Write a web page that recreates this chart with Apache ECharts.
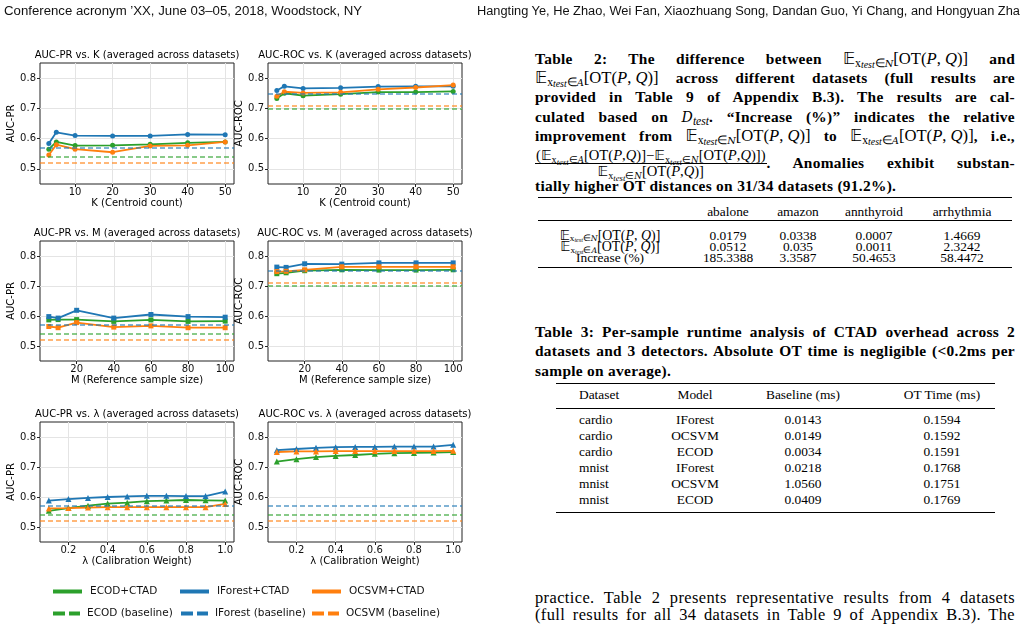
<!DOCTYPE html>
<html>
<head>
<meta charset="utf-8">
<script src="https://cdn.jsdelivr.net/npm/echarts@6.0.0/dist/echarts.min.js"></script>
<style>
  html, body { margin: 0; padding: 0; background: #fff; }
  #page { position: relative; width: 1024px; height: 633px; overflow: hidden; background: #fff; }
  #chart { position: absolute; left: 0; top: 0; width: 510px; height: 633px; }
  .hdr { position: absolute; top: 4px; font-family: "Liberation Sans Narrow", "Liberation Sans", sans-serif; font-size: 12px; white-space: nowrap; color: #111; transform-origin: left center; }
  .ln { position: absolute; left: 535px; width: 480px; height: 20px; line-height: 20px; white-space: nowrap; color: #000;
        font-family: "Liberation Serif", "DejaVu Serif", serif; }
  .ln.j { text-align: justify; text-align-last: justify; white-space: normal; }
  .cap { font-weight: bold; font-size: 15.4px; letter-spacing: 0.3px; }
  .body { font-size: 16.4px; letter-spacing: 0.4px; }
  .m { display: inline-block; white-space: nowrap; font-weight: normal; font-family: "Liberation Serif", serif; font-size: 1.08em; letter-spacing: 0; }
  .m sub { font-size: 0.7em; vertical-align: -0.25em; line-height: 0; }
  .m sub sub { font-size: 0.85em; vertical-align: -0.15em; font-style: italic; }
  .bb { font-family: "DejaVu Sans", serif; font-weight: normal; font-size: 1.0em; }
  .cal { font-style: italic; font-family: "DejaVu Serif", serif; font-size: 0.85em; }
  .frac { position: absolute; left: 535px; top: 148px; text-align: center; font-family: "Liberation Serif", serif;
          font-size: 14.6px; line-height: 14px; white-space: nowrap; color: #000; }
  .frac sub { font-size: 0.7em; vertical-align: -0.25em; line-height: 0; }
  .frac sub sub { font-size: 0.85em; font-style: italic; }
  .frac .num { border-bottom: 0.8px solid #000; padding: 0 1px 1px; }
  .rule { position: absolute; background: #000; }
  .cell { position: absolute; font-family: "Liberation Serif", "DejaVu Serif", serif; font-size: 13.4px; color: #000; white-space: nowrap; height: 14px; line-height: 14px; }
  .cell .m { font-size: 1.04em; line-height: 11px; }
  .cell .m sub { font-size: 0.66em; vertical-align: -0.2em; }
</style>
</head>
<body>
<div id="page">
  <div id="chart"></div>

  <span class="hdr" data-w="358" style="left:4px">Conference acronym ’XX, June 03–05, 2018, Woodstock, NY</span>
  <span class="hdr" data-w="543" style="left:477px">Hangting Ye, He Zhao, Wei Fan, Xiaozhuang Song, Dandan Guo, Yi Chang, and Hongyuan Zha</span>

  <div id="captions"></div>
  <div id="tables"></div>
</div>

<script>
// ---- data ----
const kValues = [3, 5, 10, 20, 30, 40, 50];
const mValues = [5, 10, 20, 40, 60, 80, 100];
const lambdaValues = [0.1, 0.2, 0.3, 0.4, 0.5, 0.6, 0.7, 0.8, 0.9, 1.0];

const kTicks = [10, 20, 30, 40, 50];
const mTicks = [20, 40, 60, 80, 100];
const lambdaTicks = [0.2, 0.4, 0.6, 0.8, 1.0];
const yTicks = [0.5, 0.6, 0.7, 0.8];

const prByK_ECOD    = [0.565, 0.589, 0.577, 0.578, 0.581, 0.586, 0.589];
const prByK_IForest = [0.584, 0.621, 0.610, 0.609, 0.609, 0.614, 0.613];
const prByK_OCSVM   = [0.546, 0.580, 0.565, 0.555, 0.576, 0.578, 0.589];

const rocByK_ECOD    = [0.733, 0.750, 0.742, 0.747, 0.754, 0.754, 0.756];
const rocByK_IForest = [0.759, 0.773, 0.766, 0.768, 0.772, 0.773, 0.773];
const rocByK_OCSVM   = [0.740, 0.755, 0.751, 0.753, 0.763, 0.769, 0.777];

const prByM_ECOD    = [0.587, 0.588, 0.588, 0.582, 0.587, 0.582, 0.583];
const prByM_IForest = [0.598, 0.593, 0.619, 0.593, 0.605, 0.598, 0.596];
const prByM_OCSVM   = [0.565, 0.561, 0.578, 0.563, 0.567, 0.561, 0.561];

const rocByM_ECOD    = [0.741, 0.744, 0.751, 0.754, 0.753, 0.753, 0.754];
const rocByM_IForest = [0.763, 0.762, 0.774, 0.773, 0.777, 0.777, 0.777];
const rocByM_OCSVM   = [0.748, 0.749, 0.754, 0.764, 0.764, 0.764, 0.764];

const prByLambda_ECOD    = [0.554, 0.563, 0.571, 0.578, 0.581, 0.586, 0.588, 0.590, 0.589, 0.588];
const prByLambda_IForest = [0.588, 0.593, 0.597, 0.600, 0.602, 0.604, 0.604, 0.603, 0.603, 0.618];
const prByLambda_OCSVM   = [0.562, 0.563, 0.565, 0.566, 0.566, 0.566, 0.566, 0.566, 0.566, 0.577];

const rocByLambda_ECOD    = [0.718, 0.726, 0.733, 0.737, 0.740, 0.744, 0.746, 0.747, 0.748, 0.750];
const rocByLambda_IForest = [0.756, 0.760, 0.764, 0.766, 0.767, 0.767, 0.768, 0.768, 0.768, 0.774];
const rocByLambda_OCSVM   = [0.750, 0.752, 0.752, 0.753, 0.753, 0.753, 0.753, 0.753, 0.753, 0.754];

// baselines in method order: ECOD, IForest, OCSVM
const baselinePR  = [0.535, 0.567, 0.523];
const baselineROC = [0.705, 0.753, 0.711];

const methods = ['ECOD', 'IForest', 'OCSVM'];
const methodColors = ['#2ca02c', '#1f77b4', '#ff7f0e'];

// table 2
const t2Columns = ['abalone', 'amazon', 'annthyroid', 'arrhythmia'];
const t2Normal  = ['0.0179', '0.0338', '0.0007', '1.4669'];
const t2Anomaly = ['0.0512', '0.035', '0.0011', '2.3242'];
const t2Increase = ['185.3388', '3.3587', '50.4653', '58.4472'];

// table 3
const t3Header   = ['Dataset', 'Model', 'Baseline (ms)', 'OT Time (ms)'];
const t3Dataset  = ['cardio', 'cardio', 'cardio', 'mnist', 'mnist', 'mnist'];
const t3Model    = ['IForest', 'OCSVM', 'ECOD', 'IForest', 'OCSVM', 'ECOD'];
const t3Baseline = ['0.0143', '0.0149', '0.0034', '0.0218', '1.0560', '0.0409'];
const t3OTTime   = ['0.1594', '0.1592', '0.1591', '0.1768', '0.1751', '0.1769'];

// ---- chart ----
const FONT = 'DejaVu Sans';
const panels = [
  { x: kValues, ys: [prByK_ECOD, prByK_IForest, prByK_OCSVM], base: baselinePR, ticks: kTicks, symbol: 'circle',
    title: 'AUC-PR vs. K (averaged across datasets)', xName: 'K (Centroid count)', yName: 'AUC-PR',
    left: 40, top: 63, height: 121, yGap: 22 },
  { x: kValues, ys: [rocByK_ECOD, rocByK_IForest, rocByK_OCSVM], base: baselineROC, ticks: kTicks, symbol: 'circle',
    title: 'AUC-ROC vs. K (averaged across datasets)', xName: 'K (Centroid count)', yName: 'AUC-ROC',
    left: 268, top: 63, height: 121, yGap: 20 },
  { x: mValues, ys: [prByM_ECOD, prByM_IForest, prByM_OCSVM], base: baselinePR, ticks: mTicks, symbol: 'rect',
    title: 'AUC-PR vs. M (averaged across datasets)', xName: 'M (Reference sample size)', yName: 'AUC-PR',
    left: 40, top: 241, height: 120, yGap: 22 },
  { x: mValues, ys: [rocByM_ECOD, rocByM_IForest, rocByM_OCSVM], base: baselineROC, ticks: mTicks, symbol: 'rect',
    title: 'AUC-ROC vs. M (averaged across datasets)', xName: 'M (Reference sample size)', yName: 'AUC-ROC',
    left: 268, top: 241, height: 120, yGap: 20 },
  { x: lambdaValues, ys: [prByLambda_ECOD, prByLambda_IForest, prByLambda_OCSVM], base: baselinePR, ticks: lambdaTicks, symbol: 'triangle',
    title: 'AUC-PR vs. λ (averaged across datasets)', xName: 'λ (Calibration Weight)', yName: 'AUC-PR',
    left: 40, top: 422, height: 120, yGap: 22 },
  { x: lambdaValues, ys: [rocByLambda_ECOD, rocByLambda_IForest, rocByLambda_OCSVM], base: baselinePR, ticks: lambdaTicks, symbol: 'triangle',
    title: 'AUC-ROC vs. λ (averaged across datasets)', xName: 'λ (Calibration Weight)', yName: 'AUC-ROC',
    left: 268, top: 422, height: 120, yGap: 20 },
];
const PLOT_W = 194;

const grid = [], xAxis = [], yAxis = [], title = [], series = [];
panels.forEach((p, i) => {
  const lo = Math.min(...p.x), hi = Math.max(...p.x), pad = (hi - lo) * 0.05;
  const isLambda = p.x === lambdaValues;
  grid.push({ left: p.left, top: p.top, width: PLOT_W, height: p.height, show: true,
    borderColor: '#222', borderWidth: 1, backgroundColor: 'transparent' });
  title.push({ text: p.title, left: p.left + PLOT_W / 2, top: p.top - 13, textAlign: 'center', padding: 0,
    textStyle: { fontFamily: FONT, fontSize: 10, fontWeight: 'normal', color: '#000' } });
  xAxis.push({
    type: 'value', gridIndex: i, min: lo - pad, max: hi + pad,
    axisLine: { show: false },
    axisTick: { show: true, length: 3, customValues: p.ticks, lineStyle: { color: '#222' } },
    axisLabel: { customValues: p.ticks, fontFamily: FONT, fontSize: 10, color: '#111', margin: 3,
      formatter: v => isLambda ? v.toFixed(1) : String(v) },
    splitLine: { show: true, lineStyle: { color: '#e4e4e4', width: 1 } },
    name: p.xName, nameLocation: 'middle', nameGap: 14,
    nameTextStyle: { fontFamily: FONT, fontSize: 10, color: '#000' },
  });
  yAxis.push({
    type: 'value', gridIndex: i, min: 0.45, max: 0.85,
    axisLine: { show: false },
    axisTick: { show: true, length: 3, customValues: yTicks, lineStyle: { color: '#222' } },
    axisLabel: { customValues: yTicks, fontFamily: FONT, fontSize: 10, color: '#111', margin: 4,
      formatter: v => v.toFixed(1) },
    splitLine: { show: true, lineStyle: { color: '#e4e4e4', width: 1 } },
    name: p.yName, nameLocation: 'middle', nameGap: p.yGap,
    nameTextStyle: { fontFamily: FONT, fontSize: 10, color: '#000' },
  });
  methods.forEach((m, k) => {
    series.push({
      type: 'line', name: m + ' (baseline)', xAxisIndex: i, yAxisIndex: i, data: [],
      itemStyle: { color: methodColors[k] }, lineStyle: { color: methodColors[k] },
      animation: false, z: 2,
      markLine: { silent: true, symbol: ['none', 'none'], label: { show: false }, animation: false,
        lineStyle: { type: [5, 3], width: 1.6, color: methodColors[k], opacity: 0.75 },
        emphasis: { disabled: true },
        data: [{ yAxis: p.base[k] }] },
    });
  });
  methods.forEach((m, k) => {
    series.push({
      type: 'line', name: m + '+CTAD', xAxisIndex: i, yAxisIndex: i,
      data: p.x.map((xv, j) => [xv, p.ys[k][j]]),
      symbol: p.symbol, symbolSize: p.symbol === 'triangle' ? 6 : 5,
      lineStyle: { width: 1.8, color: methodColors[k] }, itemStyle: { color: methodColors[k] },
      animation: false, z: 3,
    });
  });
});

// matplotlib-like legend, one component per entry so columns line up
const legendPos = [
  { name: 'ECOD+CTAD', left: 53, top: 586, dashed: false, c: 0 },
  { name: 'IForest+CTAD', left: 180, top: 586, dashed: false, c: 1 },
  { name: 'OCSVM+CTAD', left: 312, top: 586, dashed: false, c: 2 },
  { name: 'ECOD (baseline)', left: 53, top: 608, dashed: true, c: 0 },
  { name: 'IForest (baseline)', left: 181, top: 608, dashed: true, c: 1 },
  { name: 'OCSVM (baseline)', left: 312, top: 608, dashed: true, c: 2 },
];
const legend = legendPos.map(l => ({
  left: l.left, top: l.top, selectedMode: false, itemWidth: l.dashed ? 27 : 29, itemHeight: 4, padding: 0,
  textStyle: { fontFamily: FONT, fontSize: 10.5, color: '#111', padding: [0, 0, 0, l.dashed ? 2 : 3] },
  data: [{ name: l.name,
    icon: l.dashed ? 'path://M0,0H12V4H0Z M16,0H27V4H16Z' : 'rect',
    itemStyle: { color: methodColors[l.c], borderWidth: 0 } }],
}));

const chart = echarts.init(document.getElementById('chart'), null, { renderer: 'canvas' });
chart.setOption({ animation: false, backgroundColor: '#fff', title, grid, xAxis, yAxis, legend, series });

// ---- right-hand text ----
const E = (set) => `<span class="m"><span class="bb">𝔼</span><sub>x<sub>test</sub>∈<span class="cal">${set}</span></sub>[OT(<i>P</i>, <i>Q</i>)]</span>`;
const Es = (set) => `<span class="bb">𝔼</span><sub>x<sub>test</sub>∈<span class="cal">${set}</span></sub>[OT(<i>P</i>,<i>Q</i>)]`;
const captionLines = [
  { y: 59, j: true, cls: 'cap', html: `Table 2: The difference between ${E('N')} and` },
  { y: 78, j: true, cls: 'cap', html: `${E('A')} across different datasets (full results are` },
  { y: 97, j: true, cls: 'cap', html: 'provided in Table 9 of Appendix B.3). The results are cal-' },
  { y: 117, j: true, cls: 'cap', html: 'culated based on <span class="m"><span class="cal">D</span><sub><i>test</i></sub></span>. “Increase (%)” indicates the relative' },
  { y: 136, j: true, cls: 'cap', html: `improvement from ${E('N')} to ${E('A')}, i.e.,` },
  { y: 163, j: true, cls: 'cap', id: 'afterFrac', html: '. Anomalies exhibit substan-' },
  { y: 186, j: false, cls: 'cap', html: 'tially higher OT distances on 31/34 datasets (91.2%).' },
  { y: 332, j: true, cls: 'cap', html: 'Table 3: Per-sample runtime analysis of CTAD overhead across 2' },
  { y: 351, j: true, cls: 'cap', html: 'datasets and 3 detectors. Absolute OT time is negligible (&lt;0.2ms per' },
  { y: 371, j: false, cls: 'cap', html: 'sample on average).' },
  { y: 598, j: true, cls: 'body', html: 'practice. Table 2 presents representative results from 4 datasets' },
  { y: 615, j: true, cls: 'body', html: '(full results for all 34 datasets in Table 9 of Appendix B.3). The' },
];
document.getElementById('captions').innerHTML =
  `<div class="frac" id="frac"><div class="num">(${Es('A')}−${Es('N')})</div><div>${Es('N')}</div></div>` +
  captionLines.map(l =>
    `<div class="ln ${l.cls}${l.j ? ' j' : ''}"${l.id ? ` id="${l.id}"` : ''} style="top:${l.y - 10}px">${l.html}</div>`).join('');
// the text after the fraction starts where the fraction ends
const fracW = document.getElementById('frac').getBoundingClientRect().width;
const after = document.getElementById('afterFrac');
after.style.left = (535 + fracW) + 'px';
after.style.width = (480 - fracW) + 'px';

const cells = [];
const rule = (x1, x2, y, h) => cells.push(`<div class="rule" style="left:${x1}px;width:${x2 - x1}px;top:${y}px;height:${h}px"></div>`);
const cell = (cx, cy, html, align) => {
  const w = 170;
  const left = align === 'left' ? cx : cx - w / 2;
  cells.push(`<div class="cell" style="left:${left}px;top:${cy - 7}px;width:${w}px;text-align:${align || 'center'}">${html}</div>`);
};
// table 2
const t2X = [728, 798, 874, 962];
rule(538, 1012, 196.5, 1.4); rule(538, 1012, 219.5, 0.8); rule(538, 1012, 266.5, 1.4);
t2Columns.forEach((c, i) => cell(t2X[i], 212, c));
const t2Rows = [[E('N'), t2Normal], [E('A'), t2Anomaly], ['Increase (%)', t2Increase]];
const t2Y = [235.5, 247, 258.3];
t2Rows.forEach(([label, vals], r) => {
  cell(610, t2Y[r], label);
  vals.forEach((v, i) => cell(t2X[i], t2Y[r], v));
});
// table 3
rule(556, 995, 383, 1.4); rule(556, 995, 407.5, 0.8); rule(556, 995, 511.5, 1.4);
const t3Y = [420, 436, 452, 468, 484, 499.5];
cell(579, 395, t3Header[0], 'left'); cell(695, 395, t3Header[1]); cell(803, 395, t3Header[2]); cell(942, 395, t3Header[3]);
t3Dataset.forEach((d, r) => {
  cell(579, t3Y[r], d, 'left');
  cell(695, t3Y[r], t3Model[r]);
  cell(803, t3Y[r], t3Baseline[r]);
  cell(942, t3Y[r], t3OTTime[r]);
});
document.getElementById('tables').innerHTML = cells.join('');

// fit the running header to its measured width
document.querySelectorAll('.hdr').forEach(el => {
  const w = el.getBoundingClientRect().width;
  el.style.transform = `scaleX(${(+el.dataset.w / w).toFixed(3)})`;
});
</script>
</body>
</html>
